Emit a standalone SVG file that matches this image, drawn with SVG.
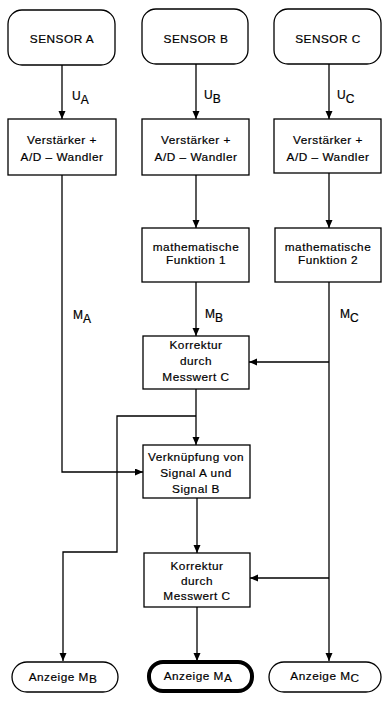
<svg xmlns="http://www.w3.org/2000/svg" width="382" height="702" viewBox="0 0 382 702">
<style>
  .box { fill: #fff; stroke: #000; stroke-width: 1.3; }
  .term { fill: #fff; stroke: #000; stroke-width: 1.3; }
  .main { fill: #fff; stroke: #000; stroke-width: 4; }
  .t { font-family: "Liberation Sans", Arial, sans-serif; font-size: 11.8px; letter-spacing: 0.5px; fill: #000; stroke: #000; stroke-width: 0.2px; text-anchor: middle; }
  .lbl { font-family: "Liberation Sans", Arial, sans-serif; font-size: 12px; fill: #000; stroke: #000; stroke-width: 0.2px; }
  .c { fill: none; stroke: #000; stroke-width: 1.3; }
  .ca { fill: none; stroke: #000; stroke-width: 1.3; marker-end: url(#ah); }
</style>
<defs>
  <marker id="ah" markerUnits="userSpaceOnUse" markerWidth="9" markerHeight="8" refX="8" refY="3.5" orient="auto">
    <path d="M0,0 L8,3.5 L0,7 z" fill="#000"/>
  </marker>
</defs>
<rect width="382" height="702" fill="#fff"/>

<g id="connectors">
  <path class="ca" d="M62,65 V119"/>
  <path class="ca" d="M196,64 V119"/>
  <path class="ca" d="M329,64 V119"/>
  <path class="ca" d="M62,175 V472 H143"/>
  <path class="ca" d="M196,175 V228"/>
  <path class="ca" d="M329,173 V228"/>
  <path class="ca" d="M196,282 V336"/>
  <path class="ca" d="M329,282 V661"/>
  <path class="ca" d="M329,362 H249"/>
  <path class="ca" d="M329,578 H250"/>
  <path class="ca" d="M196,389 V445"/>
  <path class="ca" d="M196,416 H117 V552 H63 V661"/>
  <path class="ca" d="M197,498 V553"/>
  <path class="ca" d="M197,607 V661"/>
  <text class="lbl" x="72" y="100">U<tspan dy="4">A</tspan></text>
  <text class="lbl" x="204" y="99">U<tspan dy="4">B</tspan></text>
  <text class="lbl" x="337" y="99">U<tspan dy="4">C</tspan></text>
  <text class="lbl" x="73" y="319">M<tspan dy="4">A</tspan></text>
  <text class="lbl" x="205" y="318">M<tspan dy="4">B</tspan></text>
  <text class="lbl" x="340" y="318">M<tspan dy="4">C</tspan></text>
</g>

<g id="sensorA">
  <rect class="term" x="8" y="10" width="107" height="55" rx="14"/>
  <text class="t" x="62" y="43">SENSOR A</text>
</g>
<g id="sensorB">
  <rect class="term" x="142" y="9" width="106" height="55" rx="14"/>
  <text class="t" x="196" y="43">SENSOR B</text>
</g>
<g id="sensorC">
  <rect class="term" x="274" y="9" width="107" height="55" rx="14"/>
  <text class="t" x="328" y="43">SENSOR C</text>
</g>

<g id="verstaerkerA">
  <rect class="box" x="8" y="119" width="108" height="56"/>
  <text class="t" x="62" y="144">Verstärker +</text>
  <text class="t" x="62" y="161">A/D – Wandler</text>
</g>
<g id="verstaerkerB">
  <rect class="box" x="142" y="119" width="107" height="56"/>
  <text class="t" x="196" y="144">Verstärker +</text>
  <text class="t" x="196" y="161">A/D – Wandler</text>
</g>
<g id="verstaerkerC">
  <rect class="box" x="274" y="119" width="107" height="54"/>
  <text class="t" x="328" y="144">Verstärker +</text>
  <text class="t" x="328" y="161">A/D – Wandler</text>
</g>

<g id="funktion1">
  <rect class="box" x="142" y="228" width="107" height="54"/>
  <text class="t" x="196" y="251">mathematische</text>
  <text class="t" x="196" y="264">Funktion 1</text>
</g>
<g id="funktion2">
  <rect class="box" x="275" y="228" width="106" height="54"/>
  <text class="t" x="328" y="251">mathematische</text>
  <text class="t" x="328" y="264">Funktion 2</text>
</g>

<g id="korrektur1">
  <rect class="box" x="143" y="336" width="106" height="53"/>
  <text class="t" x="196" y="349">Korrektur</text>
  <text class="t" x="196" y="365">durch</text>
  <text class="t" x="196" y="381">Messwert C</text>
</g>

<g id="verknuepfung">
  <rect class="box" x="143" y="445" width="107" height="53"/>
  <text class="t" x="196" y="461">Verknüpfung von</text>
  <text class="t" x="196" y="477">Signal A und</text>
  <text class="t" x="196" y="493">Signal B</text>
</g>

<g id="korrektur2">
  <rect class="box" x="144" y="553" width="106" height="54"/>
  <text class="t" x="197" y="570">Korrektur</text>
  <text class="t" x="197" y="585">durch</text>
  <text class="t" x="197" y="600">Messwert C</text>
</g>

<g id="anzeigeMB">
  <rect class="term" x="12" y="662" width="106" height="30" rx="15"/>
  <text class="t" x="63" y="681">Anzeige M<tspan dy="2">B</tspan></text>
</g>
<g id="anzeigeMA">
  <rect class="main" x="149" y="662" width="103" height="29" rx="14"/>
  <text class="t" x="198" y="680">Anzeige M<tspan dy="2">A</tspan></text>
</g>
<g id="anzeigeMC">
  <rect class="term" x="269" y="662" width="112" height="30" rx="15"/>
  <text class="t" x="325" y="680">Anzeige M<tspan dy="2">C</tspan></text>
</g>
</svg>
